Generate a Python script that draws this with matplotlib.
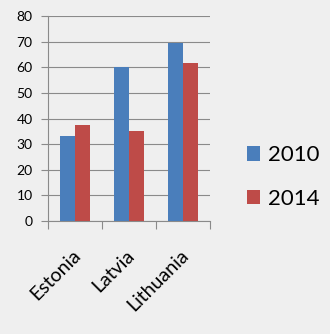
import numpy as np
import matplotlib.pyplot as plt

countries = ["Estonia", "Latvia", "Lithuania"]
v2010 = [33, 60, 69.5]
v2014 = [37.5, 35, 61.5]

plt.rcParams['font.family'] = ['Lato', 'DejaVu Sans']

fig = plt.figure(figsize=(3.30, 3.34), dpi=100, facecolor='#efefef')
ax = fig.add_axes([48/330, 1 - 221/334, 162/330, 205/334])
ax.set_facecolor('#efefef')

x = np.arange(len(countries))
w = 0.28
ax.bar(x - w/2, v2010, w, color='#4a7ebb', label='2010', zorder=3)
ax.bar(x + w/2, v2014, w, color='#be4b48', label='2014', zorder=3)

ax.set_xlim(-0.5, 2.5)
ax.set_ylim(0, 80)
ax.set_yticks(range(0, 81, 10))
ax.yaxis.grid(True, color='#8a8a8a', linewidth=0.8, zorder=0)
ax.set_xticks([-0.5, 0.5, 1.5, 2.5])
ax.set_xticklabels([])
ax.set_xticks(x + 0.05, minor=True)
ax.set_xticklabels(countries, minor=True, rotation=45, ha='right', va='center',
                   rotation_mode='anchor', fontsize=14)
ax.tick_params(axis='x', which='major', length=6, color='#8a8a8a')
ax.tick_params(axis='x', which='minor', length=0, pad=23)
ax.tick_params(axis='y', length=5, color='#8a8a8a', labelsize=10, pad=6)
for s in ['top', 'right']:
    ax.spines[s].set_visible(False)
for s in ['left', 'bottom']:
    ax.spines[s].set_color('#8a8a8a')

fig.legend(loc='center left', bbox_to_anchor=(227/330, 1 - 177/334), frameon=False,
           fontsize=16, handlelength=0.6, handleheight=0.6, handletextpad=0.35,
           labelspacing=1.05)

fig.savefig('out.png', dpi=100, facecolor=fig.get_facecolor())
